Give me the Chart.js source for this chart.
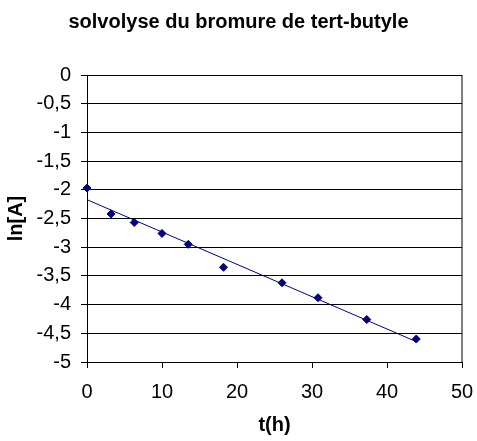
<!DOCTYPE html>
<html>
<head>
<meta charset="utf-8">
<script src="https://cdn.jsdelivr.net/npm/chart.js@4"></script>
<style>
  body { margin: 0; background: #fff; }
  #wrap { width: 477px; height: 441px; }
</style>
</head>
<body>
<div id="wrap"><canvas id="solvChart"></canvas></div>
<script>
// t in hours and ln[A]
const tHours = [0, 3.2, 6.3, 10.0, 13.5, 18.2, 26.0, 30.8, 37.3, 43.9];
const lnA = [-1.97, -2.42, -2.57, -2.76, -2.95, -3.35, -3.62, -3.88, -4.26, -4.60];

// linear trendline (least squares) over the measured range
function linReg(xs, ys) {
  const n = xs.length;
  let sx = 0, sy = 0, sxx = 0, sxy = 0;
  for (let i = 0; i < n; i++) {
    sx += xs[i]; sy += ys[i];
    sxx += xs[i] * xs[i]; sxy += xs[i] * ys[i];
  }
  const a = (n * sxy - sx * sy) / (n * sxx - sx * sx);
  const b = (sy - a * sx) / n;
  return { a, b };
}
const fit = linReg(tHours, lnA);
const tFirst = tHours[0], tLast = tHours[tHours.length - 1];
const trend = [
  { x: tFirst, y: fit.a * tFirst + fit.b },
  { x: tLast, y: fit.a * tLast + fit.b }
];

const points = tHours.map((t, i) => ({ x: t, y: lnA[i] }));
const font = "Arial, 'Liberation Sans', sans-serif";

// white background + right border of the plot area
const framePlugin = {
  id: "frame",
  beforeDraw(chart) {
    const c = chart.ctx;
    c.save();
    c.fillStyle = "#fff";
    c.fillRect(0, 0, chart.width, chart.height);
    c.restore();
  },
  beforeDatasetsDraw(chart) {
    const { right, top, bottom } = chart.chartArea;
    const c = chart.ctx;
    c.save();
    c.strokeStyle = "#000";
    c.lineWidth = 1;
    c.beginPath();
    c.moveTo(right, top);
    c.lineTo(right, bottom);
    c.stroke();
    c.restore();
  }
};

new Chart(document.getElementById("solvChart"), {
  type: "scatter",
  data: {
    datasets: [
      {
        label: "mesures",
        data: points,
        pointStyle: "rectRot",
        pointRadius: 4,
        pointBackgroundColor: "#000080",
        pointBorderColor: "#000080",
        pointBorderWidth: 1,
        showLine: false,
        clip: false,
        order: 1
      },
      {
        label: "tendance",
        data: trend,
        showLine: true,
        borderColor: "#000080",
        borderWidth: 1,
        pointRadius: 0,
        order: 2
      }
    ]
  },
  options: {
    responsive: true,
    maintainAspectRatio: false,
    animation: false,
    layout: { padding: 0 },
    plugins: {
      legend: { display: false },
      tooltip: { enabled: false },
      title: {
        display: true,
        text: "solvolyse du bromure de tert-butyle",
        color: "#000",
        font: { family: font, size: 20, weight: "bold" },
        padding: { top: 10, bottom: 41 }
      }
    },
    scales: {
      x: {
        type: "linear",
        min: 0,
        max: 50,
        ticks: {
          stepSize: 10,
          color: "#000",
          font: { family: font, size: 20 },
          padding: 12,
          maxRotation: 0
        },
        grid: { drawOnChartArea: false, tickColor: "#000", tickLength: 6 },
        border: { color: "#000" },
        title: {
          display: true,
          text: "t(h)",
          color: "#000",
          font: { family: font, size: 20, weight: "bold" },
          padding: { top: 8, bottom: 4 }
        },
        afterFit(scale) {
          scale.height = 79;
          scale.paddingLeft = 0;
          scale.paddingRight = 15;
        }
      },
      y: {
        type: "linear",
        min: -5,
        max: 0,
        ticks: {
          stepSize: 0.5,
          color: "#000",
          font: { family: font, size: 20 },
          padding: 10,
          callback: v => String(v).replace(".", ",")
        },
        grid: { color: "#000", tickColor: "#000", tickLength: 6 },
        border: { color: "#000" },
        title: {
          display: true,
          text: "ln[A]",
          color: "#000",
          font: { family: font, size: 20, weight: "bold" },
          padding: { top: 4, bottom: 4 }
        },
        afterFit(scale) {
          scale.width = 87;
        }
      }
    }
  },
  plugins: [framePlugin]
});
</script>
</body>
</html>
